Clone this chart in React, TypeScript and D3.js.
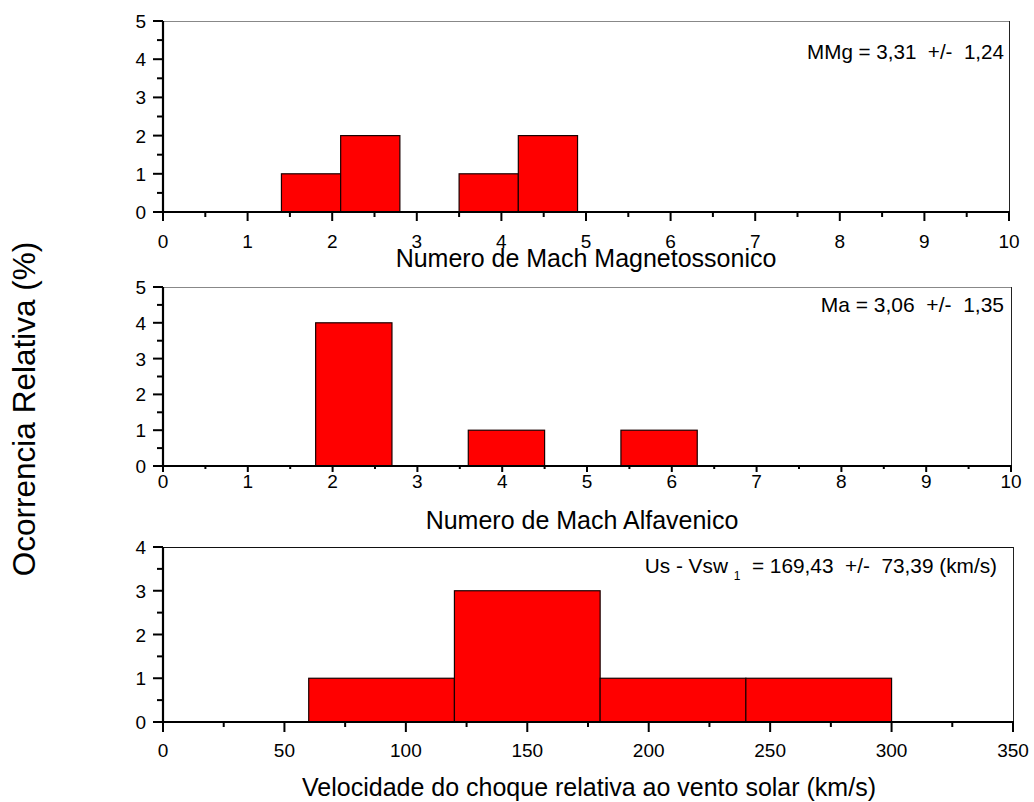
import React from "react";
import * as d3 from "d3";

// ---- data ----
const mmgEdges = [1.4, 2.1, 2.8, 3.5, 4.2, 4.9];
const mmgCounts = [1, 2, 0, 1, 2];
const maEdges = [1.8, 2.7, 3.6, 4.5, 5.4, 6.3];
const maCounts = [4, 0, 1, 0, 1];
const velEdges = [60, 120, 180, 240, 300];
const velCounts = [1, 3, 1, 1];

const machTicks = [0, 1, 2, 3, 4, 5, 6, 7, 8, 9, 10];
const machMinor = d3.range(0.5, 10, 1);
const velTicks = [0, 50, 100, 150, 200, 250, 300, 350];
const velMinor = d3.range(25, 350, 50);

const FONT = "'Liberation Sans', Arial, Helvetica, sans-serif";

type PanelProps = {
  x0: number; x1: number; yTop: number; yBot: number;
  xDomain: [number, number]; yMax: number;
  xTicks: number[]; xMinor: number[];
  edges: number[]; counts: number[];
  xMajLen: number; xMinLen: number;
  tickLabelY: number;
  title: string; titleX: number; titleY: number;
  annotation: React.ReactNode;
  topColor: string;
};

function Panel(p: PanelProps) {
  const x = d3.scaleLinear().domain(p.xDomain).range([p.x0, p.x1]);
  const y = d3.scaleLinear().domain([0, p.yMax]).range([p.yBot, p.yTop]);
  const yTicks = d3.range(0, p.yMax + 1, 1);
  const yMinor = d3.range(0.5, p.yMax, 1);
  const bars = p.counts.map((c, i) => ({ a: p.edges[i], b: p.edges[i + 1], c }));
  return (
    <g>
      {/* frame top/right */}
      <line x1={p.x0} x2={p.x1} y1={p.yTop + 0.5} y2={p.yTop + 0.5} stroke={p.topColor} strokeWidth={1} />
      <line x1={p.x1 + 0.5} x2={p.x1 + 0.5} y1={p.yTop} y2={p.yBot} stroke="#222" strokeWidth={1} />
      {/* bars */}
      {bars.filter(d => d.c > 0).map((d, i) => (
        <rect key={i} x={x(d.a)} y={y(d.c)} width={x(d.b) - x(d.a)} height={y(0) - y(d.c)}
          fill="#ff0000" stroke="#1a0000" strokeWidth={1.2} />
      ))}
      {/* axes */}
      <line x1={p.x0 - 1} x2={p.x1 + 1} y1={p.yBot} y2={p.yBot} stroke="#000" strokeWidth={2.2} />
      <line x1={p.x0} x2={p.x0} y1={p.yTop} y2={p.yBot + 1} stroke="#000" strokeWidth={2.2} />
      {p.xTicks.map(t => (
        <g key={"xt" + t}>
          <line x1={x(t)} x2={x(t)} y1={p.yBot} y2={p.yBot + p.xMajLen} stroke="#000" strokeWidth={2} />
          <text x={x(t)} y={p.tickLabelY} textAnchor="middle" fontSize={19} fontFamily={FONT} fill="#000">{t}</text>
        </g>
      ))}
      {p.xMinor.map(t => (
        <line key={"xm" + t} x1={x(t)} x2={x(t)} y1={p.yBot} y2={p.yBot + p.xMinLen} stroke="#000" strokeWidth={2} />
      ))}
      {yTicks.map(t => (
        <g key={"yt" + t}>
          <line x1={p.x0 - 10} x2={p.x0} y1={y(t)} y2={y(t)} stroke="#000" strokeWidth={2} />
          <text x={p.x0 - 17} y={y(t) + 7} textAnchor="end" fontSize={19} fontFamily={FONT} fill="#000">{t}</text>
        </g>
      ))}
      {yMinor.map(t => (
        <line key={"ym" + t} x1={p.x0 - 6} x2={p.x0} y1={y(t)} y2={y(t)} stroke="#000" strokeWidth={2} />
      ))}
      <text x={p.titleX} y={p.titleY} textAnchor="middle" fontSize={25} fontFamily={FONT} fill="#000">{p.title}</text>
      {p.annotation}
    </g>
  );
}

export default function App() {
  return (
    <svg width={1034} height={802} style={{ position: "absolute", left: 0, top: 0, background: "#fff" }}>
      <rect width={1034} height={802} fill="#fff" />
      <Panel x0={163} x1={1009} yTop={21} yBot={212} xDomain={[0, 10]} yMax={5}
        xTicks={machTicks} xMinor={machMinor} edges={mmgEdges} counts={mmgCounts}
        xMajLen={9} xMinLen={5} tickLabelY={248}
        title="Numero de Mach Magnetossonico" titleX={586} titleY={267}
        topColor="#888"
        annotation={<text x={1004} y={59} textAnchor="end" fontSize={20.6} fontFamily={FONT} xmlSpace="preserve">MMg = 3,31  +/-  1,24</text>} />
      <Panel x0={163} x1={1011} yTop={287} yBot={466} xDomain={[0, 10]} yMax={5}
        xTicks={machTicks} xMinor={machMinor} edges={maEdges} counts={maCounts}
        xMajLen={6} xMinLen={3} tickLabelY={488}
        title="Numero de Mach Alfavenico" titleX={582} titleY={529}
        topColor="#888"
        annotation={<text x={1004} y={312} textAnchor="end" fontSize={21} fontFamily={FONT} xmlSpace="preserve">Ma = 3,06  +/-  1,35</text>} />
      <Panel x0={163} x1={1013} yTop={547} yBot={722} xDomain={[0, 350]} yMax={4}
        xTicks={velTicks} xMinor={velMinor} edges={velEdges} counts={velCounts}
        xMajLen={10} xMinLen={5} tickLabelY={757}
        title="Velocidade do choque relativa ao vento solar (km/s)" titleX={589} titleY={796}
        topColor="#111"
        annotation={<text x={997} y={573} textAnchor="end" fontSize={20.8} fontFamily={FONT} fill="#000" xmlSpace="preserve">Us - Vsw <tspan fontSize={12} dy={7} fill="#000">1</tspan><tspan dy={-7} fill="#000">  = 169,43  +/-  73,39 (km/s)</tspan></text>} />
      <text transform="translate(35,409) rotate(-90)" textAnchor="middle" fontSize={31.5} fontFamily={FONT} fill="#000">Ocorrencia Relativa (%)</text>
    </svg>
  );
}
